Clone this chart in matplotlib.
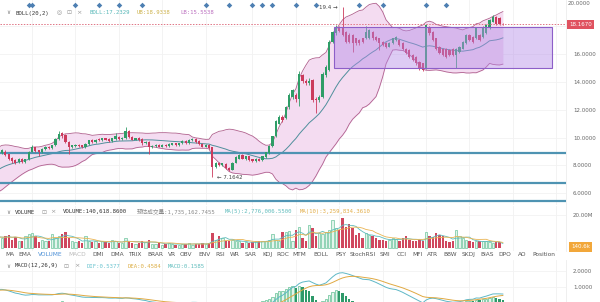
import numpy as np
import pandas as pd
import matplotlib
matplotlib.use('Agg')
import matplotlib.pyplot as plt
from matplotlib.patches import Rectangle

# ---------------- data ----------------
opens = [8.9, 9.0, 8.8, 8.55, 8.4, 8.25, 8.5, 8.25, 8.45, 9.0,
         9.3, 9.1, 8.95, 9.2, 9.35, 9.25, 9.45, 9.9, 10.35, 10.2,
         9.7, 9.3, 9.4, 9.5, 9.45, 9.3, 9.55, 9.85, 9.7, 9.9,
         9.8, 9.95, 9.9, 9.75, 9.9, 10.05, 9.9, 9.95, 10.5, 10.05,
         9.85, 10.0, 9.9, 9.6, 9.7, 9.3, 9.4, 9.5, 9.35, 9.5,
         9.4, 9.5, 9.6, 9.45, 9.6, 9.75, 9.6, 9.8, 9.9, 9.75,
         9.55, 9.35, 9.5, 9.3, 7.9, 8.2, 8.0, 8.1, 7.85, 7.7,
         8.2, 8.5, 8.75, 8.45, 8.65, 8.45, 8.3, 8.5, 8.4, 8.6,
         8.9, 9.4, 10.1, 11.0, 11.5, 11.4, 12.2, 12.9, 13.1, 12.8,
         14.5, 14.1, 13.9, 14.15, 12.8, 12.7, 12.9, 14.5, 14.9, 16.9,
         17.5, 17.98, 17.87, 17.6, 17.4, 17.4, 17.15, 17.03, 17.15, 17.15,
         17.15, 17.6, 17.27, 17.15, 16.9, 16.8, 16.55, 16.8, 17.03, 17.03,
         16.8, 16.4, 16.3, 15.95, 15.8, 15.45, 15.35, 15.0, 17.98, 17.6,
         17.15, 16.55, 16.4, 16.4, 16.3, 16.4, 15.95, 16.2, 16.4, 16.8,
         17.4, 17.27, 17.15, 17.4, 17.27, 17.5, 17.87, 18.35, 18.7, 18.6,
         18.2]
closes = [9.1, 8.75, 8.5, 8.3, 8.2, 8.5, 8.25, 8.45, 9.0, 9.3,
          9.05, 8.95, 9.2, 9.35, 9.25, 9.45, 9.9, 10.3, 10.1, 9.7,
          9.3, 9.45, 9.5, 9.4, 9.3, 9.55, 9.8, 9.7, 9.85, 9.8,
          9.95, 9.85, 9.75, 9.95, 10.1, 9.9, 10.0, 10.5, 10.05, 9.85,
          9.95, 9.8, 9.6, 9.7, 9.3, 9.4, 9.5, 9.35, 9.5, 9.4,
          9.55, 9.6, 9.45, 9.6, 9.75, 9.6, 9.85, 9.9, 9.7, 9.55,
          9.35, 9.5, 9.25, 7.9, 8.2, 8.0, 8.15, 7.8, 7.7, 8.2,
          8.6, 8.75, 8.5, 8.65, 8.4, 8.3, 8.5, 8.35, 8.65, 8.95,
          9.4, 10.1, 11.2, 11.5, 11.3, 12.2, 13.1, 13.4, 12.8, 14.6,
          14.1, 13.9, 14.1, 12.7, 12.7, 12.95, 14.6, 15.1, 16.9, 17.6,
          17.98, 17.7, 17.4, 16.9, 16.9, 16.8, 16.8, 16.8, 16.9, 17.6,
          17.75, 17.15, 17.03, 16.8, 16.7, 16.55, 16.8, 17.15, 17.27, 16.7,
          16.4, 16.1, 15.8, 15.6, 15.35, 15.0, 14.9, 18.1, 17.5, 17.03,
          16.4, 16.1, 15.95, 15.8, 15.95, 15.95, 16.4, 16.55, 16.9, 17.4,
          17.03, 16.9, 17.87, 17.03, 17.98, 18.1, 18.47, 18.7, 18.2, 18.2,
          18.167]
highs = [9.2, 9.1, 8.85, 8.6, 8.45, 8.55, 8.55, 8.5, 9.05, 9.45,
         9.35, 9.15, 9.25, 9.4, 9.4, 9.5, 9.95, 10.5, 10.4, 10.25,
         9.75, 9.5, 9.55, 9.55, 9.5, 9.6, 9.85, 9.9, 9.9, 9.95,
         10.0, 10.0, 9.95, 10.0, 10.35, 10.1, 10.05, 10.75, 10.55, 10.1,
         10.0, 10.05, 9.95, 9.75, 9.75, 9.45, 9.55, 9.55, 9.55, 9.55,
         9.6, 9.65, 9.65, 9.65, 9.8, 9.8, 9.9, 9.95, 9.95, 9.8,
         9.6, 9.55, 9.55, 9.35, 8.25, 8.25, 8.2, 8.15, 7.9, 8.25,
         8.65, 8.8, 8.8, 8.7, 8.7, 8.5, 8.55, 8.55, 8.7, 9.0,
         9.45, 10.15, 11.3, 11.6, 11.6, 12.3, 13.2, 13.5, 13.2, 14.8,
         14.6, 14.2, 14.3, 14.2, 12.9, 13.1, 14.7, 15.2, 17.0, 17.7,
         18.1, 18.05, 19.4, 17.7, 17.5, 17.45, 17.2, 17.1, 17.2, 18.0,
         17.85, 17.65, 17.35, 17.2, 16.95, 16.85, 16.85, 17.2, 17.35, 17.1,
         16.85, 16.45, 16.35, 16.0, 15.85, 15.5, 15.4, 18.2, 18.05, 17.65,
         17.2, 16.6, 16.45, 16.45, 16.35, 16.45, 16.45, 16.6, 16.95, 17.45,
         17.45, 17.3, 17.95, 17.45, 18.05, 18.2, 18.55, 18.85, 18.75, 18.65,
         18.25]
lows = [8.8, 8.7, 8.4, 8.2, 8.1, 8.2, 8.2, 8.2, 8.4, 8.95,
        9.0, 8.7, 8.9, 9.15, 9.2, 9.2, 9.4, 9.85, 10.0, 9.6,
        8.8, 9.25, 9.35, 9.35, 9.25, 9.25, 9.5, 9.65, 9.65, 9.75,
        9.75, 9.8, 9.7, 9.7, 9.85, 9.85, 9.85, 9.9, 10.0, 9.8,
        9.8, 9.75, 9.5, 9.55, 8.8, 9.25, 9.35, 9.3, 9.3, 9.35,
        9.35, 9.45, 9.4, 9.4, 9.55, 9.55, 9.55, 9.75, 9.65, 9.5,
        9.3, 9.3, 9.2, 7.1642, 7.85, 7.95, 7.95, 7.75, 7.6, 7.65,
        8.15, 8.45, 8.45, 8.4, 8.35, 8.25, 8.25, 8.3, 8.35, 8.55,
        8.85, 9.35, 10.05, 10.95, 11.1, 11.35, 12.1, 12.8, 12.6, 12.3,
        13.9, 13.8, 13.8, 12.6, 11.75, 12.6, 12.85, 14.4, 14.8, 16.8,
        17.4, 17.6, 17.3, 16.8, 16.8, 16.2, 16.7, 16.7, 16.8, 17.1,
        17.1, 17.05, 16.95, 16.3, 16.6, 16.45, 16.5, 16.75, 16.95, 16.6,
        16.3, 16.0, 15.7, 15.5, 15.25, 14.9, 14.8, 14.95, 17.4, 16.95,
        16.3, 16.0, 15.85, 15.7, 15.85, 15.85, 15.0, 16.1, 16.35, 16.75,
        16.95, 16.8, 17.1, 16.95, 17.2, 17.45, 17.8, 18.3, 18.1, 18.1,
        18.1]
volumes_m = [6, 7.5, 8, 5, 6.5, 4.5, 4, 7.5, 8.5, 9, 7.5,
             3.5, 5, 4, 4.5, 8.5, 6, 7, 8.5, 9.5, 6,
             4.5, 3.5, 4, 3, 7, 4, 3.5, 4, 3, 4.5,
             3.5, 3, 5, 4, 3, 3, 6, 4.5, 3, 2.5,
             3, 4, 3.5, 5, 2.5, 2.5, 3, 2, 2.5, 3,
             2.5, 2, 2, 2.5, 2.5, 3, 2, 2.5, 2.5, 3, 2.5, 3,
             9,
             5, 7, 6, 4.5, 4, 5, 4, 4.5, 3, 3.5, 3, 3.5, 4, 4,
             4, 4.5, 5, 8.5, 5, 4, 9.5, 10, 10.5, 4.5, 11,
             13, 6, 4, 14, 12, 7, 9, 8.5, 9.5, 11,
             17, 12, 11, 18, 13, 14.5, 12, 8, 9, 6, 9, 8,
             7, 6, 5, 5, 4.5, 5, 6, 5.5, 4.5, 6, 7, 5, 4, 4.5, 5, 4.5,
             9.5, 7, 6.5, 9, 8, 7, 4.5, 3.5, 4,
             11, 7, 6, 5, 4, 3.5, 4, 4, 4, 4.5, 3.5, 3.0, 3.8, 3.4, 0.14]
# history before the first visible candle (only feeds the indicators)
pre_close = [4.3, 4.45, 4.55, 4.75, 4.85, 5.0, 5.15, 5.25, 5.45, 5.55,
             5.7, 5.85, 5.95, 6.15, 6.25, 6.4, 6.5, 6.7, 6.8, 6.95,
             7.1, 7.2, 7.4, 7.5, 7.65, 7.8, 7.9, 8.1, 8.2, 8.35,
             8.5, 8.6, 8.8, 8.9, 9.0]
pre_volume_m = [6, 7, 8, 6, 5, 7, 8, 6, 7, 6]

last_price = 18.167
high_idx, high_val = 102, 19.4
low_idx, low_val = 63, 7.1642
hline_levels = [8.92, 6.73, 5.42]
box_start, box_end, box_low, box_high = 99.4, 164.7, 15.0, 17.97
marker_idx = [8, 9, 22, 29, 35, 42, 61, 68, 75, 78, 81, 88, 94, 107, 114, 127, 133]
grid_idx = [9, 22, 35, 48, 61, 75, 88, 101, 114, 127, 140, 153, 166]
price_ticks = [6, 8, 10, 12, 14, 16]
macd_ticks = [1.0, 2.0]
tabs = ["MA", "EMA", "VOLUME", "MACD", "DMI", "DMA", "TRIX", "BRAR", "VR", "OBV",
        "ENV", "RSI", "WR", "SAR", "KDJ", "ROC", "MTM", "BOLL", "PSY", "StochRSI",
        "SMI", "CCI", "MFI", "ATR", "BBW", "SKDJ", "BIAS", "DPO", "AO", "Position"]
tab_x = [5, 18, 38, 68, 92, 110, 128, 147, 168, 180, 198, 215, 230, 245, 262,
         276, 292, 313, 335, 350, 380, 397, 412, 427, 443, 462, 480, 498, 518, 532]

# ---------------- indicators ----------------
n_pre = len(pre_close)
allc = pd.Series(pre_close + closes)
xall = np.arange(len(allc)) - n_pre
mid = allc.rolling(20).mean()
sd = allc.rolling(20).std(ddof=0)
ub = mid + 2 * sd
lb = mid - 2 * sd
ema12 = allc.ewm(span=12, adjust=False).mean()
ema26 = allc.ewm(span=26, adjust=False).mean()
dif = ema12 - ema26
dea = dif.ewm(span=9, adjust=False).mean()
hist = 2 * (dif - dea)

allv = pd.Series(pre_volume_m + volumes_m)
xv = np.arange(len(allv)) - len(pre_volume_m)
ma5 = allv.rolling(5).mean()
ma10 = allv.rolling(10).mean()

o = np.array(opens); c = np.array(closes); h = np.array(highs); l = np.array(lows)
x = np.arange(len(c))
up = c >= o

# ---------------- figure ----------------
W, H = 600, 302
fig = plt.figure(figsize=(6.0, 3.02), dpi=100)
fig.patch.set_facecolor('white')

def rect(x0, y0, x1, y1):
    return [x0 / W, 1 - y1 / H, (x1 - x0) / W, (y1 - y0) / H]

def ftxt(px, py, s, **kw):
    kw.setdefault('va', 'center')
    kw.setdefault('ha', 'left')
    return fig.text(px / W, 1 - py / H, s, **kw)

XL = (-0.6, 168.9)
ax = fig.add_axes(rect(0, 0, 566, 205))
axv = fig.add_axes(rect(0, 206, 566, 251))
axm = fig.add_axes(rect(0, 260, 566, 302))
for a in (ax, axv, axm):
    a.set_xlim(*XL)
    a.set_facecolor('none')
    for s in a.spines.values():
        s.set_visible(False)
    a.spines['right'].set_visible(True)
    a.spines['right'].set_color('#ececec')
    a.spines['right'].set_linewidth(0.6)
    a.set_xticks([])
    a.yaxis.tick_right()
    a.tick_params(axis='y', length=0, labelsize=4.0, labelcolor='#666666', pad=5)
    for g in grid_idx:
        a.axvline(g, color='#f1f1f1', lw=0.6, zorder=0)

# ---- main panel ----
ax.set_ylim(5.158, 19.906)
ax.set_yticks(price_ticks)
ax.set_yticklabels(['%.4f' % t for t in price_ticks])
for t in price_ticks + [18]:
    ax.axhline(t, color='#f2f2f2', lw=0.6, zorder=0)

ax.fill_between(xall, lb, ub, color='#f4dcf1', zorder=1, lw=0)
ax.plot(xall, ub, color='#b0608e', lw=0.6, zorder=2)
ax.plot(xall, lb, color='#b0608e', lw=0.6, zorder=2)
ax.plot(xall, mid, color='#4f8f9c', lw=0.7, zorder=2)

for lev in hline_levels:
    ax.axhline(lev, color='#4e93b2', lw=1.6, zorder=3)

up_col, dn_col = '#2f9d67', '#cc3a5c'
cols = np.where(up, up_col, dn_col)
ax.vlines(x, l, h, colors=cols, lw=0.6, zorder=4)
body_b = np.minimum(o, c)
body_h = np.maximum(np.abs(c - o), 0.04)
ax.bar(x, body_h, bottom=body_b, width=0.66, color=cols, lw=0, zorder=5)

ax.add_patch(Rectangle((box_start, box_low), box_end - box_start, box_high - box_low,
                       facecolor='#b58ce8', alpha=0.45, edgecolor='none', zorder=6))
ax.add_patch(Rectangle((box_start, box_low), box_end - box_start, box_high - box_low,
                       facecolor='none', edgecolor='#8d5fc8', lw=0.8, zorder=7))

ax.axhline(last_price, color='#e07585', lw=0.7, ls=(0, (1.5, 1.5)), zorder=8)

ax.scatter(marker_idx, [19.55] * len(marker_idx), marker='D', s=8, color='#4d7fb2',
           zorder=9, lw=0)

ax.text(high_idx - 1.6, high_val, '19.4 \u2192', ha='right', va='center',
        fontsize=4.0, color='#444444', zorder=9)
ax.text(low_idx + 1.4, low_val, '\u2190 7.1642', ha='left', va='center',
        fontsize=4.0, color='#444444', zorder=9)

ftxt(568, 3.5, '20.0000', fontsize=4.0, color='#666666')
ftxt(569, 24.5, '18.1670', fontsize=4.0, color='white',
     bbox=dict(boxstyle='square,pad=0.35', fc='#e0525f', ec='none'))

# header
mono = ['DejaVu Sans Mono', 'Noto Sans CJK SC']
ftxt(6, 13, '\u2228', fontsize=4.0, color='#777777')
ftxt(15, 13, 'BOLL(20,2)', fontsize=4.1, color='#333333', family=mono)
ftxt(57, 13, '\u25ce', fontsize=4.2, color='#999999')
ftxt(66, 13, '\u22a1', fontsize=4.2, color='#999999')
ftxt(76, 13, '\u00d7', fontsize=4.6, color='#999999')
ftxt(90, 13, 'BOLL:17.2329', fontsize=4.1, color='#55b7b7', family=mono)
ftxt(137, 13, 'UB:18.9338', fontsize=4.1, color='#cdb24c', family=mono)
ftxt(180, 13, 'LB:15.5538', fontsize=4.1, color='#bb6fbf', family=mono)

# ---- volume panel ----
axv.set_ylim(-1.8, 25.45)
axv.set_yticks([20])
axv.set_yticklabels(['20.00M'])
axv.axhline(20, color='#f2f2f2', lw=0.6, zorder=0)
vol = np.array(volumes_m)
axv.bar(x[~up], vol[~up], width=0.7, color='#d0485f', lw=0, zorder=3)
axv.bar(x[up], vol[up], width=0.7, color='#e3f4ec', edgecolor='#6cc49c', lw=0.5, zorder=3)
axv.plot(xv, ma5, color='#5fbcbc', lw=0.6, zorder=4)
axv.plot(xv, ma10, color='#e9b453', lw=0.6, zorder=4)
ftxt(6, 212, '\u2228', fontsize=4.0, color='#777777')
ftxt(15, 212, 'VOLUME', fontsize=4.1, color='#333333', family=mono)
ftxt(41, 212, '\u22a1', fontsize=4.2, color='#999999')
ftxt(50, 212, '\u00d7', fontsize=4.6, color='#999999')
ftxt(63, 212, 'VOLUME:140,618.8600', fontsize=4.1, color='#333333', family=mono)
ftxt(137, 212, '\u9884\u4f30\u6210\u4ea4\u91cf:1,735,162.7455', fontsize=4.1,
     color='#8a8a8a', family=mono)
ftxt(225, 212, 'MA(5):2,776,006.5500', fontsize=4.1, color='#5fbcbc', family=mono)
ftxt(300, 212, 'MA(10):3,259,834.3610', fontsize=4.1, color='#e2ad48', family=mono)
ftxt(571, 247, '140.6k', fontsize=4.0, color='white',
     bbox=dict(boxstyle='square,pad=0.4', fc='#f2a73a', ec='none'))

# ---- tabs ----
for name, tx in zip(tabs, tab_x):
    col = '#555555'
    if name == 'VOLUME':
        col = '#4a8fd6'
    elif name == 'MACD':
        col = '#bbbbbb'
    ftxt(tx, 254.5, name, fontsize=4.2, color=col)

# ---- MACD panel ----
axm.set_ylim(0.0625, 2.69)
axm.set_yticks(macd_ticks)
axm.set_yticklabels(['%.4f' % t for t in macd_ticks])
for t in macd_ticks:
    axm.axhline(t, color='#f2f2f2', lw=0.6, zorder=0)
hv = hist.values[n_pre:]
hprev = hist.values[n_pre - 1:-1]
inc = hv >= hprev
pos = hv >= 0
m1 = pos & ~inc
m2 = pos & inc
axm.bar(x[m1], hv[m1], width=0.7, color='#2e9a6a', lw=0, zorder=3)
axm.bar(x[m2], hv[m2], width=0.7, color='#e3f4ec', edgecolor='#5fbf92', lw=0.5, zorder=3)
axm.bar(x[~pos], hv[~pos], width=0.7, color='#d0485f', lw=0, zorder=3)
axm.plot(xall, dif, color='#5fb8c6', lw=0.7, zorder=4)
axm.plot(xall, dea, color='#e0a942', lw=0.7, zorder=4)
ftxt(6, 266, '\u2228', fontsize=4.0, color='#777777')
ftxt(15, 266, 'MACD(12,26,9)', fontsize=4.1, color='#333333', family=mono)
ftxt(63, 266, '\u22a1', fontsize=4.2, color='#999999')
ftxt(74, 266, '\u00d7', fontsize=4.6, color='#999999')
ftxt(87, 266, 'DIF:0.5377', fontsize=4.1, color='#69c3cf', family=mono)
ftxt(128, 266, 'DEA:0.4584', fontsize=4.1, color='#dcae45', family=mono)
ftxt(168, 266, 'MACD:0.1585', fontsize=4.1, color='#5fbcbc', family=mono)

fig.savefig('out.png', dpi=100, facecolor='white')
